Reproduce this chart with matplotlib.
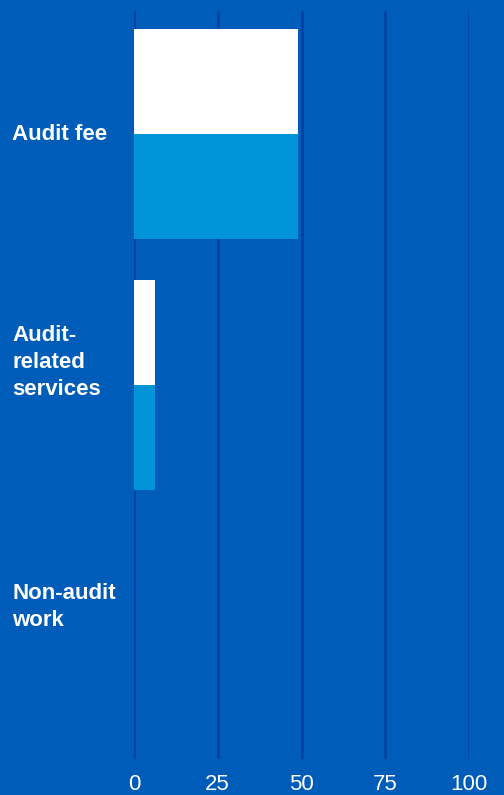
import numpy as np
import matplotlib
matplotlib.use("Agg")
import matplotlib.pyplot as plt
import matplotlib.transforms as mtransforms

# data
categories = ["Audit fee", "Audit-\nrelated\nservices", "Non-audit\nwork"]
prior_year = [49, 6.3, 0]      # white bars (upper)
current_year = [49, 6.3, 0]    # light blue bars (lower)
ticks = [0, 25, 50, 75, 100]

BG = "#005CB9"
GRID = "#003F9E"
LIGHT = "#0093D8"

plt.rcParams['font.family'] = ['Liberation Sans', 'DejaVu Sans']

fig = plt.figure(figsize=(5.04, 7.95), dpi=100, facecolor=BG)
ax = fig.add_axes([134 / 504, 1 - 761.5 / 795, (469 - 134) / 504, 753 / 795])
ax.set_facecolor(BG)

y = np.arange(len(categories))
h = 0.42
ax.barh(y - h / 2, prior_year, height=h, color="white", linewidth=0, zorder=3)
ax.barh(y + h / 2, current_year, height=h, color=LIGHT, linewidth=0, zorder=3)

ax.set_xlim(0, 100)
ax.set_ylim(2.5, -0.5)
ax.set_xticks(ticks)
ax.set_xticklabels([str(t) for t in ticks], color="white", fontsize=16)
ax.tick_params(axis="x", length=0, pad=9)
ax.set_yticks([])
for t in ticks:
    ax.axvline(t, color=GRID, linewidth=1.8, zorder=1, ymin=0.006, ymax=0.995)
for s in ax.spines.values():
    s.set_visible(False)

# category labels at the left edge of the figure
trans = mtransforms.blended_transform_factory(fig.transFigure, ax.transData)
label_offsets = [0, -0.09, -0.115]
for i, (c, off) in enumerate(zip(categories, label_offsets)):
    ax.text(12 / 504, i + off, c, transform=trans, ha="left", va="center",
            color="white", fontsize=16, fontweight="bold", linespacing=1.4)

fig.savefig("out.png", dpi=100, facecolor=BG)
